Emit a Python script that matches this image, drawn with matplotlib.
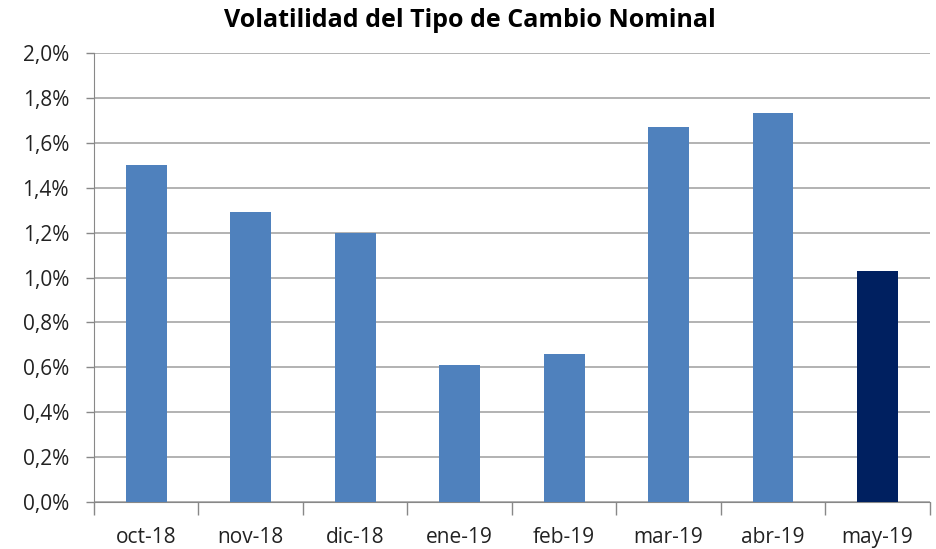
from matplotlib import pyplot as plt
from matplotlib.ticker import FuncFormatter, FixedLocator

meses = ['oct-18', 'nov-18', 'dic-18', 'ene-19', 'feb-19', 'mar-19', 'abr-19', 'may-19']
volatilidad = [1.50, 1.29, 1.20, 0.61, 0.66, 1.67, 1.73, 1.03]
colores = ['#4F81BD'] * 7 + ['#002060']

plt.rcParams['font.family'] = ['Open Sans', 'DejaVu Sans']

fig = plt.figure(figsize=(9.36, 5.49), dpi=100)
ax = fig.add_axes([0.1004, 0.085, 0.893, 0.819])

x = list(range(len(meses)))
ax.bar(x, volatilidad, width=0.39, color=colores, zorder=3)

ax.set_xlim(-0.5, len(meses) - 0.5)
ax.set_ylim(0, 2.0)
ax.set_yticks([i * 0.2 for i in range(11)])
ax.yaxis.set_major_formatter(FuncFormatter(lambda v, p: ('%.1f%%' % v).replace('.', ',')))
ax.yaxis.grid(True, color='#a6a6a6', linewidth=1.2, zorder=0)

ax.set_xticks(x)
ax.set_xticklabels(meses)
ax.xaxis.set_minor_locator(FixedLocator([i - 0.5 for i in range(len(meses) + 1)]))
ax.tick_params(axis='x', which='major', length=0, pad=18, labelsize=15, colors='#222222')
ax.tick_params(axis='x', which='minor', length=9, color='#888888', width=1)
ax.tick_params(axis='y', length=6, color='#888888', width=1, labelsize=15, colors='#222222', pad=12)

for s in ['top', 'right']:
    ax.spines[s].set_visible(False)
ax.spines['left'].set_color('#888888')
ax.spines['bottom'].set_color('#888888')

fig.text(0.502, 0.963, 'Volatilidad del Tipo de Cambio Nominal', ha='center', va='center',
         fontsize=18, fontweight='bold', color='black')

plt.savefig('out.png', dpi=100)
